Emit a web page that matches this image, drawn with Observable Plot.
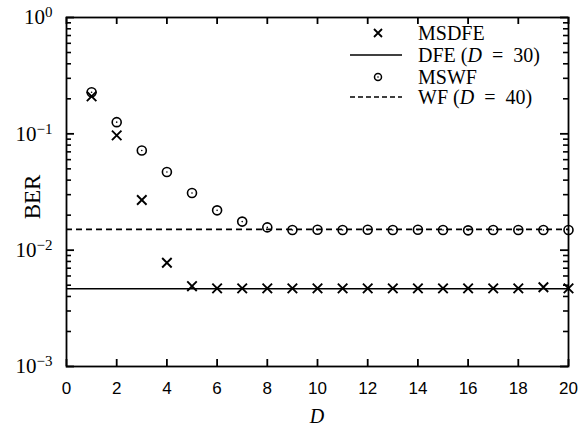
<!DOCTYPE html>
<html><head><meta charset="utf-8">
<script src="https://cdn.jsdelivr.net/npm/d3@7"></script>
<script src="https://cdn.jsdelivr.net/npm/@observablehq/plot@0.6"></script>
<style>body{margin:0;background:#fff} svg{display:block}</style>
</head><body><div id="chart"></div>
<script>
// ---- data ----
const Dvals = [1,2,3,4,5,6,7,8,9,10,11,12,13,14,15,16,17,18,19,20];
const msdfe = [0.21,0.097,0.027,0.0078,0.0049,0.0047,0.0047,0.0047,0.0047,0.0047,0.0047,0.0047,0.0047,0.0047,0.0047,0.0047,0.0047,0.0047,0.0048,0.0047];
const mswf  = [0.228,0.126,0.072,0.047,0.031,0.022,0.0176,0.0157,0.0149,0.0150,0.0149,0.0150,0.0149,0.0150,0.0149,0.0148,0.0149,0.0149,0.0149,0.0149];
const dfeLevel = 0.00466;   // DFE (D = 30)
const wfLevel  = 0.0151;    // WF (D = 40)
const xTicks = [0,2,4,6,8,10,12,14,16,18,20];
const yMajor = [1e-3,1e-2,1e-1,1];
const yMinor = [];
for (const dec of [1e-3,1e-2,1e-1]) for (let k=2;k<=9;k++) yMinor.push(dec*k);
const legendItems = ["MSDFE","DFE","MSWF","WF"];

// ---- layout ----
const W=582,H=426, mL=66, mR=14, mT=17, mB=60;
const fw = W-mL-mR, fh = H-mT-mB;
const serif = "'Liberation Serif', 'Times New Roman', serif";

const rowsX = Dvals.map((d,i)=>({D:d, v:msdfe[i]}));
const rowsO = Dvals.map((d,i)=>({D:d, v:mswf[i]}));

const plot = Plot.plot({
  width: W, height: H,
  marginLeft: mL, marginRight: mR, marginTop: mT, marginBottom: mB,
  x: {domain:[0,20], ticks: xTicks},
  y: {type:"log", domain:[1e-3,1]},
  style: {fontFamily: "'Liberation Sans', Arial, sans-serif", fontSize: "17px", color:"black", background:"white"},
  marks: [
    Plot.ruleY([dfeLevel], {stroke:"black", strokeWidth:1.7}),
    Plot.ruleY([wfLevel], {stroke:"black", strokeWidth:1.7, strokeDasharray:"6,4"}),
    Plot.dot(rowsX, {x:"D", y:"v", symbol:"times", r:4.4, stroke:"black", strokeWidth:1.9}),
    Plot.dot(rowsO, {x:"D", y:"v", symbol:"circle", r:4.5, stroke:"black", strokeWidth:1.6, fill:"none"}),
    Plot.dot(rowsO, {x:"D", y:"v", r:0.8, fill:"black"}),
    // inward ticks on all four sides
    Plot.ruleX(xTicks, {x:d=>d, insetTop: fh-7, stroke:"black", strokeWidth:1.8}),
    Plot.ruleX(xTicks, {x:d=>d, insetBottom: fh-7, stroke:"black", strokeWidth:1.8}),
    Plot.ruleY(yMajor, {y:d=>d, insetRight: fw-8, stroke:"black", strokeWidth:1.8}),
    Plot.ruleY(yMajor, {y:d=>d, insetLeft: fw-8, stroke:"black", strokeWidth:1.8}),
    Plot.ruleY(yMinor, {y:d=>d, insetRight: fw-5, stroke:"black", strokeWidth:1.6}),
    Plot.ruleY(yMinor, {y:d=>d, insetLeft: fw-5, stroke:"black", strokeWidth:1.6}),
    Plot.frame({stroke:"black", strokeWidth:1.8}),
    Plot.axisX({ticks: xTicks, tickSize:0, tickPadding:15, label:null, fontSize:17}),
    Plot.axisY({ticks: yMajor, tickSize:0, tickPadding:14, label:null,
      tickFormat: d => String(Math.round(Math.log10(d))).replace("-", "\u2212")})
  ]
});
document.getElementById("chart").appendChild(plot);

const svg = d3.select(plot);

// y tick labels as 10^e
svg.selectAll('g[aria-label="y-axis tick label"]')
  .attr("font-family", serif)
  .attr("font-size", 21);
svg.selectAll('g[aria-label="y-axis tick label"] text').each(function(){
  const e = this.textContent;
  const t = d3.select(this);
  t.text("");
  t.append("tspan").text("10");
  t.append("tspan").attr("dy","-0.45em").attr("font-size",15).text(e);
});

// axis titles
svg.append("text").attr("transform",`translate(32,197) rotate(-90)`)
  .attr("text-anchor","middle").attr("dy","0.35em")
  .attr("font-family",serif).attr("font-size",23).text("BER");
svg.append("text").attr("x", mL+fw/2).attr("y", 416).attr("dy","0.35em")
  .attr("text-anchor","middle").attr("font-family",serif).attr("font-size",20)
  .attr("font-style","italic").text("D");

// legend
const lg = svg.append("g").attr("font-family",serif).attr("font-size",20).attr("text-anchor","start");
const rowY = [33,55,77,97];
const mx = 378, tx = 418;
lg.append("path").attr("d",`M${mx-4},${rowY[0]-4}L${mx+4},${rowY[0]+4}M${mx+4},${rowY[0]-4}L${mx-4},${rowY[0]+4}`)
  .attr("stroke","black").attr("stroke-width",1.8);
lg.append("line").attr("x1",350).attr("x2",402).attr("y1",rowY[1]).attr("y2",rowY[1]).attr("stroke","black").attr("stroke-width",1.7);
lg.append("circle").attr("cx",mx).attr("cy",rowY[2]).attr("r",3.5).attr("fill","none").attr("stroke","black").attr("stroke-width",1.5);
lg.append("circle").attr("cx",mx).attr("cy",rowY[2]).attr("r",0.8).attr("fill","black");
lg.append("line").attr("x1",350).attr("x2",402).attr("y1",rowY[3]).attr("y2",rowY[3]).attr("stroke","black").attr("stroke-width",1.7).attr("stroke-dasharray","5,3");

function legendText(y, name, dval){
  const t = lg.append("text").attr("x",tx).attr("y",y).attr("dy","0.35em").attr("text-anchor","start");
  if (dval == null) { t.text(name); return; }
  t.append("tspan").text(name + " (");
  t.append("tspan").attr("font-style","italic").text("D");
  t.append("tspan").text("\u2002=\u2002" + dval + ")");
}
legendText(rowY[0], legendItems[0]);
legendText(rowY[1], legendItems[1], 30);
legendText(rowY[2], legendItems[2]);
legendText(rowY[3], legendItems[3], 40);
</script>
</body></html>
